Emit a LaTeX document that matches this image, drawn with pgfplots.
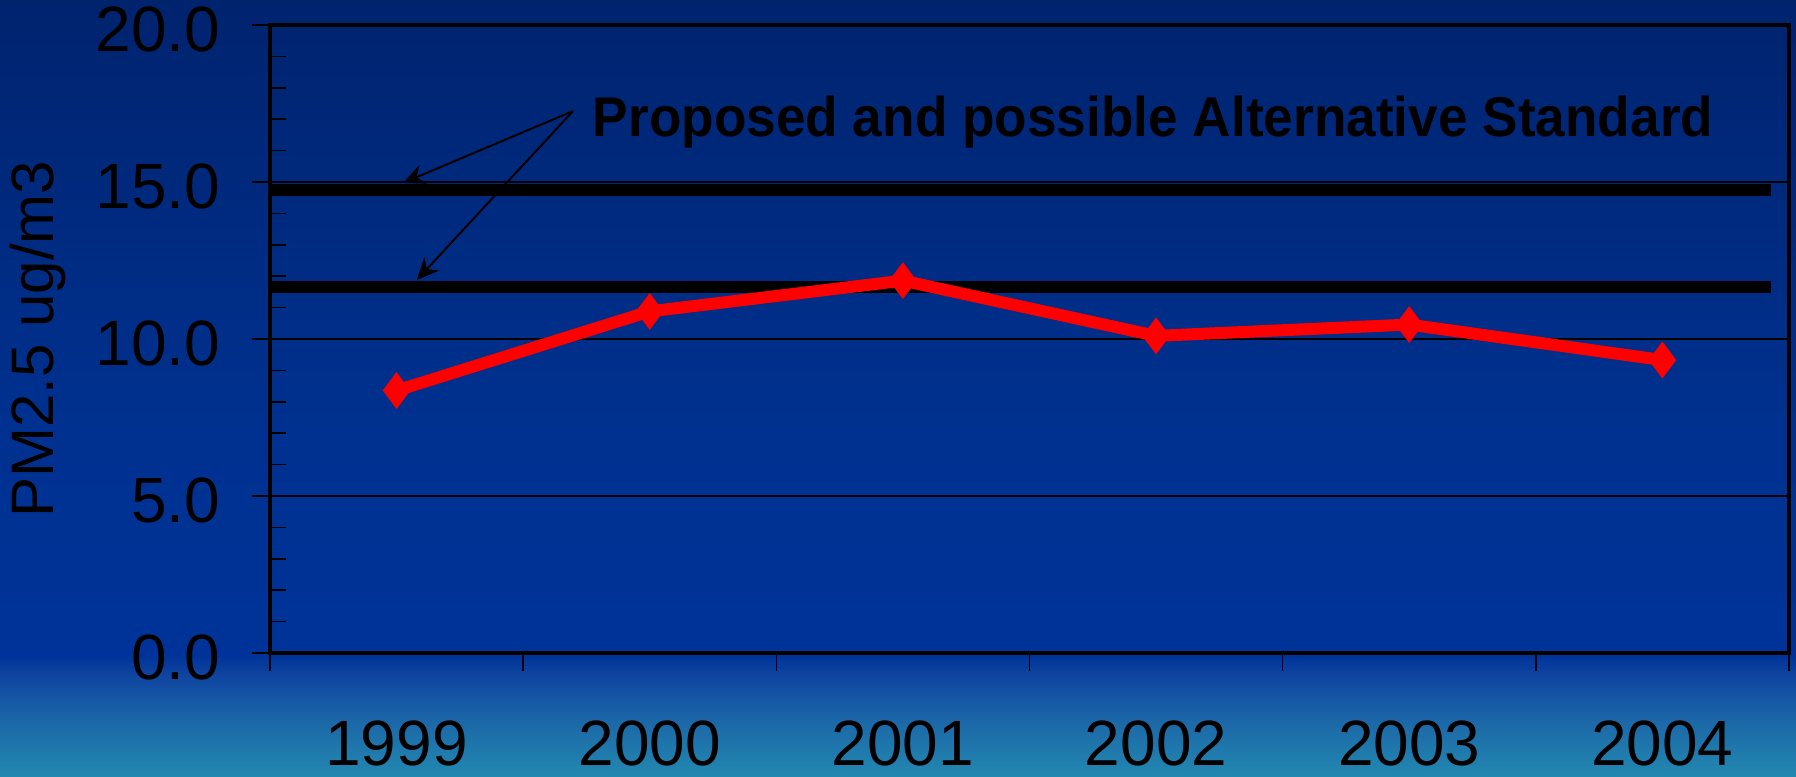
\documentclass[border=0pt]{standalone}
\usepackage{pgfplots}
\pgfplotsset{compat=1.18}
\usetikzlibrary{arrows.meta}
\usepackage{fontspec}
\setmainfont{Liberation Sans}

\definecolor{bgtop}{HTML}{00236E}
\definecolor{bgmidup}{HTML}{003190}
\definecolor{bgmid}{HTML}{003399}
\definecolor{bglow}{HTML}{0F45A0}
\definecolor{bglower}{HTML}{1C68A8}
\definecolor{bgbot}{HTML}{2288B0}
% 25bp = bottom of picture, 75bp = top
\pgfdeclareverticalshading{slide}{100bp}{color(0bp)=(bgbot); color(25bp)=(bgbot);
  color(28.5bp)=(bglower); color(31.5bp)=(bglow); color(32.75bp)=(bgmid);
  color(47.5bp)=(bgmidup); color(75bp)=(bgtop); color(100bp)=(bgtop)}

\begin{document}
\begin{tikzpicture}
\useasboundingbox (0,0) rectangle (449pt,194pt);
\shade[shading=slide] (0,0) rectangle (449pt,194pt);
\begin{axis}[
    at={(67.5pt,30.75pt)}, anchor=south west,
    scale only axis, width=379.75pt, height=157pt,
    xmin=0, xmax=6, ymin=0, ymax=20,
    xtick={0,...,6},
    xticklabels={1999,2000,2001,2002,2003,2004,{}},
    xticklabel style={xshift=31.65pt, yshift=-8.8pt},
    ytick={0,5,...,20},
    minor ytick={1,2,3,4,6,7,8,9,11,12,13,14,16,17,18,19},
    yticklabel style={xshift=-4.4pt, yshift=-1.2pt,
        /pgf/number format/.cd, fixed, fixed zerofill, precision=1},
    /pgf/number format/assume math mode=true,
    tick align=outside, xtick pos=bottom, ytick pos=left,
    major tick length=4.5pt, minor tick length=4pt,
    every minor tick/.append style={xshift=4pt},
    tick style={black, line width=0.4pt},
    ymajorgrids, major grid style={black, line width=0.3pt},
    axis line style={black, line width=0.9pt},
    font=\fontsize{16}{19}\selectfont,
    ylabel={PM2.5 ug/m3},
    ylabel style={at={(axis description cs:-0.1525,0.5)}, anchor=center,
        font=\fontsize{15}{18}\selectfont},
    clip=false,
]
\addplot[black, line width=3pt] coordinates {(0,14.73)(5.93,14.73)};
\addplot[black, line width=3pt] coordinates {(0,11.67)(5.93,11.67)};
\addplot[red, line width=3pt, mark=diamond*, mark size=4.2pt,
    mark options={solid, line width=0.5pt}]
    coordinates {(0.5,8.36)(1.5,10.88)(2.5,11.86)(3.5,10.10)(4.5,10.46)(5.5,9.33)};
\draw[black, line width=0.5pt, -{Stealth[length=5.5pt,width=5pt]}]
    (axis cs:1.197,17.26) -- (axis cs:0.525,14.97);
\draw[black, line width=0.5pt, -{Stealth[length=5.5pt,width=5pt]}]
    (axis cs:1.197,17.26) -- (axis cs:0.58,11.88);
\node[anchor=west, inner sep=0pt, font=\bfseries\fontsize{14}{16}\selectfont]
    at (axis cs:1.272,16.9) {\scalebox{0.95}[1]{Proposed and possible Alternative Standard}};
\end{axis}
\end{tikzpicture}
\end{document}
